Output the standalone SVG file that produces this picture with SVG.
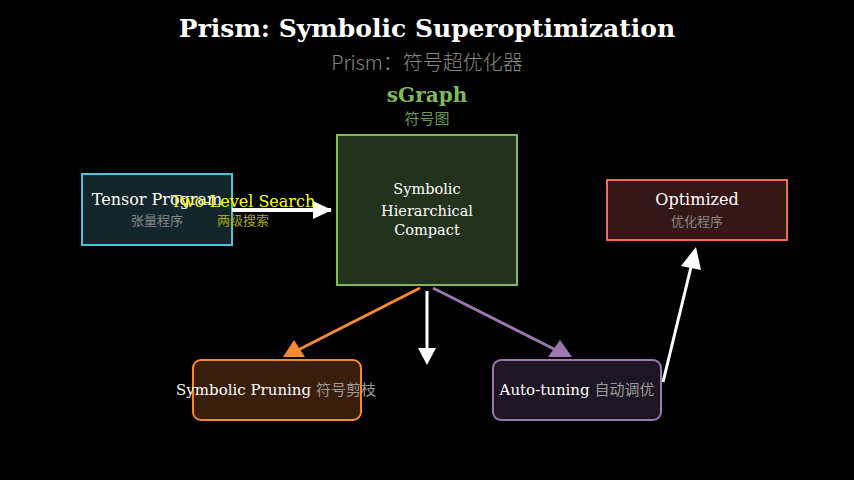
<svg xmlns="http://www.w3.org/2000/svg" width="854" height="480" viewBox="0 0 854 480">
<style>
.en{font-family:"DejaVu Serif",serif;fill:#fff}
.zh{font-family:"Noto Sans CJK SC","Noto Sans",sans-serif}
</style>
<defs>
<marker id="aw" markerWidth="20" markerHeight="20" refX="18" refY="9" orient="auto" markerUnits="userSpaceOnUse"><path d="M0,0L19,9L0,18z" fill="#fff"/></marker>
</defs>
<rect width="854" height="480" fill="#000"/>
<text x="427" y="37" text-anchor="middle" class="en" font-size="25" font-weight="bold">Prism: Symbolic Superoptimization</text>
<text x="427" y="70" text-anchor="middle" class="zh" font-size="20" fill="#888" font-weight="300">Prism：符号超优化器</text>
<g id="tensor">
<rect x="82" y="174" width="150" height="71" fill="#13262c" stroke="#4fc3dc" stroke-width="2"/>
<text x="157" y="205" text-anchor="middle" class="en" font-size="16">Tensor Program</text>
<text x="157" y="225" text-anchor="middle" class="zh" font-size="13" fill="#888">张量程序</text>
</g>
<g id="sgraph">
<text x="427" y="102" text-anchor="middle" font-family="DejaVu Serif,serif" font-size="20" font-weight="bold" fill="#7fb95b">sGraph</text>
<text x="427" y="124" text-anchor="middle" class="zh" font-size="15" fill="#6a9a4a">符号图</text>
<rect x="337" y="135" width="180" height="150" fill="#22321d" stroke="#7fb95b" stroke-width="2"/>
<text x="427" y="194" text-anchor="middle" class="en" font-size="14.5">Symbolic</text>
<text x="427" y="216" text-anchor="middle" class="en" font-size="14.5">Hierarchical</text>
<text x="427" y="235" text-anchor="middle" class="en" font-size="14.5">Compact</text>
</g>
<g id="optimized">
<rect x="607" y="180" width="180" height="60" fill="#361717" stroke="#f06a55" stroke-width="2"/>
<text x="697" y="205" text-anchor="middle" class="en" font-size="16">Optimized</text>
<text x="697" y="226" text-anchor="middle" class="zh" font-size="13" fill="#888">优化程序</text>
</g>
<g id="pruning">
<rect x="193" y="360" width="168" height="60" rx="8" fill="#3a1e0c" stroke="#f58a30" stroke-width="2"/>
<text x="276" y="395" text-anchor="middle" font-size="15"><tspan class="en">Symbolic Pruning </tspan><tspan class="zh" fill="#999">符号剪枝</tspan></text>
</g>
<g id="autotuning">
<rect x="493" y="360" width="168" height="60" rx="8" fill="#1e1624" stroke="#9c77b0" stroke-width="2"/>
<text x="577" y="395" text-anchor="middle" font-size="15"><tspan class="en">Auto-tuning </tspan><tspan class="zh" fill="#999">自动调优</tspan></text>
</g>
<g id="connectors">
<line x1="232" y1="210" x2="331" y2="210" stroke="#fff" stroke-width="4" marker-end="url(#aw)"/>
<text x="243" y="207" text-anchor="middle" font-family="DejaVu Serif,serif" font-size="16" fill="#ffff00">Two-Level Search</text>
<text x="243" y="225" text-anchor="middle" class="zh" font-size="13" fill="#a8a800">两级搜索</text>
<line x1="420" y1="288" x2="298" y2="350" stroke="#f58a30" stroke-width="3"/>
<polygon points="283,357 294,340 305,357" fill="#f58a30"/>
<line x1="427" y1="291" x2="427" y2="350" stroke="#fff" stroke-width="3"/>
<polygon points="418,348 436,348 427,365" fill="#fff"/>
<line x1="433" y1="288" x2="556" y2="350" stroke="#9c77b0" stroke-width="3"/>
<polygon points="548,357 560,340 572,357" fill="#9c77b0"/>
<line x1="663" y1="382" x2="692" y2="263" stroke="#fff" stroke-width="3"/>
<polygon points="681,266 696,247 701,270" fill="#fff"/>
</g>
</svg>
